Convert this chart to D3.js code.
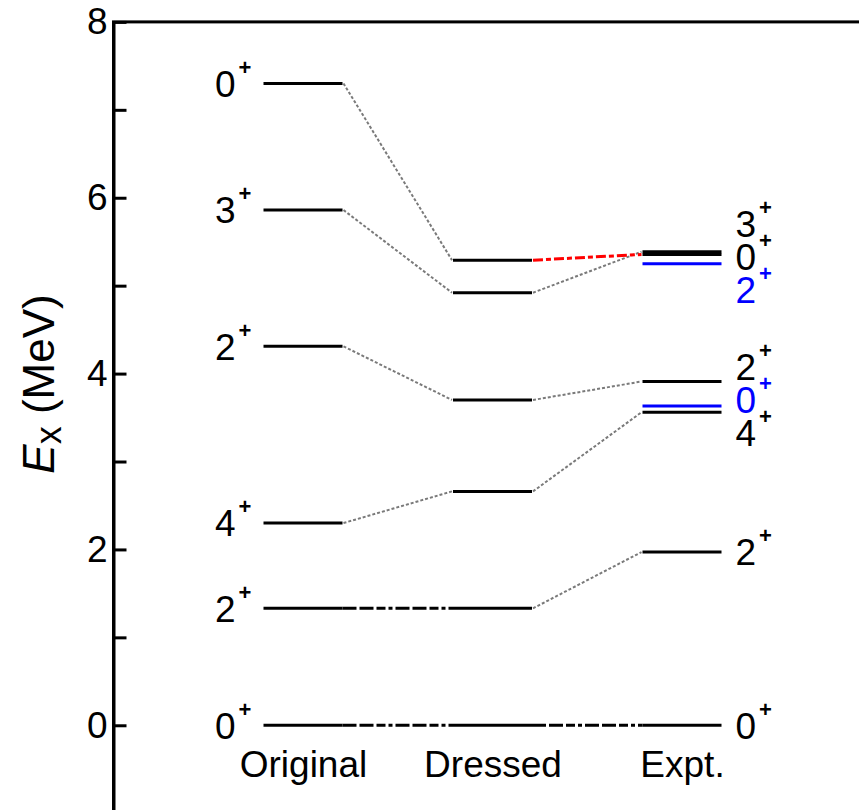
<!DOCTYPE html>
<html>
<head>
<meta charset="utf-8">
<script src="https://cdn.jsdelivr.net/npm/d3@7"></script>
<style>
  body { margin: 0; background: #fff; }
  svg { display: block; font-family: "Liberation Sans", Arial, sans-serif; }
</style>
</head>
<body>
<div id="chart"></div>
<script>
// level scheme: original / dressed calculation vs experiment
// connectors join a level to its partner in the next column

const columns = ["Original", "Dressed", "Expt."];

const originalE = [0, 1.33, 2.30, 4.31, 5.86, 7.30];
const originalJ = ["0", "2", "4", "2", "3", "0"];

const dressedE = [0, 1.33, 2.66, 3.70, 4.92, 5.29];

const exptE = [0, 1.97, 3.56, 3.63, 3.91, 5.25, 5.355, 5.386];
const exptJ = ["0", "2", "4", "0", "2", "2", "0", "3"];
const exptGroup = ["main", "main", "main", "extra", "main", "extra", "main", "main"];

// [from column, from index, to column, to index, kind]
const links = [
  [0, 0, 1, 0, "same"],
  [0, 1, 1, 1, "same"],
  [0, 2, 1, 2, "flow"],
  [0, 3, 1, 3, "flow"],
  [0, 4, 1, 4, "flow"],
  [0, 5, 1, 5, "flow"],
  [1, 0, 2, 0, "same"],
  [1, 1, 2, 1, "flow"],
  [1, 2, 2, 2, "flow"],
  [1, 3, 2, 4, "flow"],
  [1, 4, 2, 7, "flow"],
  [1, 5, 2, 6, "intruder"],
];

const yTicks = [0, 1, 2, 3, 4, 5, 6, 7, 8];

const W = 859, H = 810;
const halfW = 39.5;
const fontSize = 37;

const energies = [originalE, dressedE, exptE];

const x = d3.scalePoint().domain(columns).range([303, 682]);
const y = d3.scaleLinear().domain([-1, 8]).range([813.2, 21.9]);
const groupColor = d3.scaleOrdinal().domain(["main", "extra"]).range(["#000", "#0000ff"]);

const linkStyle = {
  same: { stroke: "#000", width: 3, dash: "14,3,14,3,9,3,4,3" },
  flow: { stroke: "#7a7a7a", width: 2, dash: "3,2" },
  intruder: { stroke: "#ff0000", width: 3, dash: "10,3,5,3" },
};

const svg = d3.select("#chart").append("svg")
  .attr("width", W)
  .attr("height", H);

// frame (right and bottom edges fall outside the picture)
svg.append("rect")
  .attr("x", 113.5).attr("y", y(8))
  .attr("width", 1000).attr("height", y(-1) - y(8))
  .attr("fill", "none").attr("stroke", "#000").attr("stroke-width", 3);

const yAxis = d3.axisLeft(y)
  .tickValues(yTicks)
  .tickSizeInner(-13)
  .tickSizeOuter(0)
  .tickPadding(6)
  .tickFormat(d => d % 2 === 0 ? d : "");

const ga = svg.append("g")
  .attr("transform", "translate(113.5,0)")
  .call(yAxis);
ga.select(".domain").attr("stroke-width", 3);
ga.selectAll(".tick line").attr("stroke-width", 3);
ga.selectAll(".tick text")
  .attr("font-size", fontSize)
  .attr("font-family", "Liberation Sans, Arial, sans-serif")
  .attr("fill", "#000");

// y title
const yt = svg.append("text")
  .attr("transform", "translate(54,384) rotate(-90)")
  .attr("text-anchor", "middle")
  .attr("font-size", 44);
yt.append("tspan").attr("font-style", "italic").text("E");
yt.append("tspan").attr("font-size", 36).attr("dy", 7).text("x");
yt.append("tspan").attr("dy", -7).text(" (MeV)");

// column names
const xAxis = d3.axisBottom(x).tickSize(0).tickPadding(0);
const gx = svg.append("g")
  .attr("transform", "translate(0,750)")
  .call(xAxis);
gx.select(".domain").remove();
gx.selectAll(".tick text")
  .attr("font-size", fontSize)
  .attr("font-family", "Liberation Sans, Arial, sans-serif")
  .attr("fill", "#000")
  .attr("dy", "0.72em");

// connectors
svg.append("g").selectAll("line")
  .data(links)
  .join("line")
  .attr("x1", d => x(columns[d[0]]) + halfW + (d[4] === "same" ? 0 : 1))
  .attr("y1", d => y(energies[d[0]][d[1]]))
  .attr("x2", d => x(columns[d[2]]) - halfW - (d[4] === "same" ? 0 : 1))
  .attr("y2", d => y(energies[d[2]][d[3]]))
  .attr("stroke", d => linkStyle[d[4]].stroke)
  .attr("stroke-width", d => linkStyle[d[4]].width)
  .attr("stroke-dasharray", d => linkStyle[d[4]].dash);

// levels
columns.forEach((col, ci) => {
  svg.append("g").selectAll("line")
    .data(energies[ci].map((e, i) => ({ e, i })))
    .join("line")
    .attr("x1", x(col) - halfW)
    .attr("x2", x(col) + halfW)
    .attr("y1", d => y(d.e))
    .attr("y2", d => y(d.e))
    .attr("stroke", d => ci === 2 ? groupColor(exptGroup[d.i]) : "#000")
    .attr("stroke-width", 3);
});

function spinLabel(g, px, py, j, color) {
  const t = g.append("text")
    .attr("x", px)
    .attr("y", py + 13.3)
    .attr("font-size", fontSize)
    .attr("fill", color);
  t.append("tspan").text(j);
  t.append("tspan")
    .attr("dx", 3)
    .attr("dy", -22)
    .attr("font-size", 22)
    .attr("font-weight", "bold")
    .text("+");
}

// original labels on the left
const gl = svg.append("g");
originalE.forEach((e, i) => spinLabel(gl, 215, y(e), originalJ[i], "#000"));

// experimental labels on the right, pushed apart where levels crowd
const expLabels = exptE.map((e, i) => ({ i, c: y(e) }))
  .sort((a, b) => a.c - b.c);
const minGap = 33;
for (let k = 0; k < 200; k++) {
  for (let m = 1; m < expLabels.length; m++) {
    const gap = expLabels[m].c - expLabels[m - 1].c;
    if (gap < minGap) {
      const push = (minGap - gap) / 2;
      expLabels[m - 1].c -= push;
      expLabels[m].c += push;
    }
  }
}
expLabels.forEach(d => spinLabel(gl, 735.5, d.c, exptJ[d.i], groupColor(exptGroup[d.i])));
</script>
</body>
</html>
